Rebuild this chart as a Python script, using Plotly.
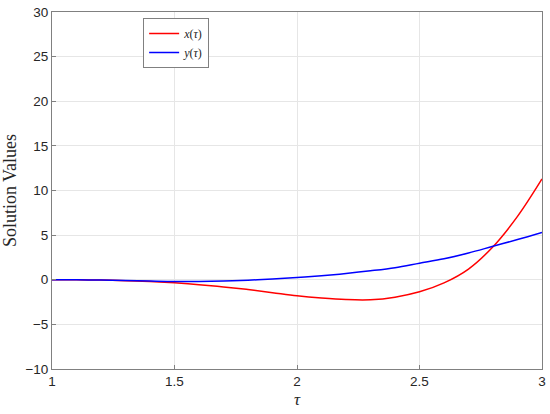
import plotly.graph_objects as go

# tau grid and solution values
tau = [1.0, 1.1, 1.2, 1.3, 1.4, 1.5, 1.6, 1.7, 1.8, 1.9, 2.0,
       2.1, 2.2, 2.3, 2.4, 2.5, 2.6, 2.7, 2.8, 2.9, 3.0]
x_vals = [0.0, -0.01, -0.04, -0.1, -0.2, -0.35, -0.55, -0.8, -1.1, -1.45, -1.8,
          -2.05, -2.22, -2.24, -1.95, -1.35, -0.35, 1.2, 3.7, 7.1, 11.3]
y_vals = [0.0, -0.01, -0.04, -0.09, -0.15, -0.2, -0.2, -0.15, -0.05, 0.08, 0.25,
          0.45, 0.7, 1.0, 1.35, 1.85, 2.35, 3.0, 3.75, 4.5, 5.3]

x_ticks = [1, 1.5, 2, 2.5, 3]
y_ticks = [-10, -5, 0, 5, 10, 15, 20, 25, 30]

serif = "Liberation Serif, DejaVu Serif, serif"

fig = go.Figure()

fig.add_trace(go.Scatter(
    x=tau, y=x_vals, mode="lines", line_shape="spline",
    name="<i>x</i>(<i>τ</i>)",
    line=dict(color="#ff0000", width=1.5),
))
fig.add_trace(go.Scatter(
    x=tau, y=y_vals, mode="lines", line_shape="spline",
    name="<i>y</i>(<i>τ</i>)",
    line=dict(color="#0000ff", width=1.5),
))

axis_style = dict(
    showline=True, linecolor="#808080", linewidth=1, mirror=True,
    showgrid=True, gridcolor="#e6e6e6", gridwidth=1,
    zeroline=False, ticks="inside", ticklen=4, tickcolor="#808080",
    automargin=False, ticklabeloverflow="allow",
    tickfont=dict(family="Liberation Sans, Arial, sans-serif", size=13.5, color="#262626"),
)

fig.update_xaxes(
    range=[1, 3], tickvals=x_ticks, ticktext=[str(v) for v in x_ticks],
    title=dict(text="<i>τ</i>", font=dict(family=serif, size=17, color="#262626"), standoff=4),
    **axis_style,
)
fig.update_yaxes(
    range=[-10, 30], tickvals=y_ticks, ticktext=[str(v).replace("-", "\u2212") for v in y_ticks],
    title=dict(text="Solution Values", font=dict(family=serif, size=18, color="#262626"), standoff=10),
    **axis_style,
)

fig.update_layout(
    width=550, height=414,
    margin=dict(l=52, r=8, t=12, b=45),
    plot_bgcolor="white", paper_bgcolor="white",
    showlegend=True,
    legend=dict(
        x=0.186, y=0.983, xanchor="left", yanchor="top",
        bgcolor="white", bordercolor="#808080", borderwidth=1,
        font=dict(family=serif, size=12, color="#262626"),
        tracegroupgap=0, itemwidth=30,
    ),
)

# drop the default page margin so the figure sits at the window corner
fig.write_html(
    "out.html",
    config={"displayModeBar": False},
    post_script="document.body.style.margin='0px';",
)
